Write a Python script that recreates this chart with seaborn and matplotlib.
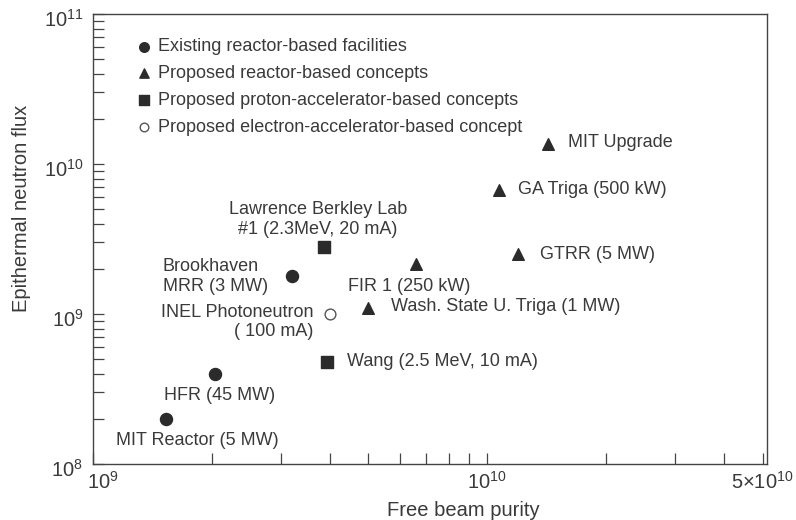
import matplotlib
matplotlib.use("Agg")
import matplotlib.pyplot as plt
import matplotlib.transforms as mtransforms
import seaborn as sns
import pandas as pd
from matplotlib.ticker import FixedLocator, NullFormatter, LogLocator

# ---------------- data ----------------
names = ["MIT Reactor (5 MW)", "HFR (45 MW)", "Brookhaven\nMRR (3 MW)",
         "INEL Photoneutron\n( 100 mA)", "Lawrence Berkley Lab\n#1 (2.3MeV, 20 mA)",
         "Wang (2.5 MeV, 10 mA)", "Wash. State U. Triga (1 MW)", "FIR 1 (250 kW)",
         "GTRR (5 MW)", "GA Triga (500 kW)", "MIT Upgrade"]
purity = [1.53e9, 2.04e9, 3.2e9, 4.0e9, 3.85e9, 3.92e9, 5.0e9, 6.6e9, 1.2e10, 1.07e10, 1.43e10]
flux = [2.0e8, 4.0e8, 1.8e9, 1.0e9, 2.8e9, 4.8e8, 1.1e9, 2.15e9, 2.5e9, 6.7e9, 1.35e10]
category = ["existing", "existing", "existing", "electron", "proton",
            "proton", "reactor", "reactor", "reactor", "reactor", "reactor"]
legend_labels = {
    "existing": "Existing reactor-based facilities",
    "reactor": "Proposed reactor-based concepts",
    "proton": "Proposed proton-accelerator-based concepts",
    "electron": "Proposed electron-accelerator-based concept",
}
x_ticks = [1e9, 1e10, 5e10]
x_ticklabels = [r"$10^{9}$", r"$10^{10}$", r"$5{\times}10^{10}$"]
y_ticks = [1e8, 1e9, 1e10, 1e11]
y_ticklabels = [r"$10^{8}$", r"$10^{9}$", r"$10^{10}$", r"$10^{11}$"]
x_label = "Free beam purity"
y_label = "Epithermal neutron flux"

df = pd.DataFrame({"name": names, "purity": purity, "flux": flux, "cat": category})

# ---------------- style ----------------
sns.set_theme(style="ticks")
plt.rcParams["font.family"] = ["Liberation Sans", "DejaVu Sans"]
plt.rcParams["mathtext.fontset"] = "custom"
plt.rcParams["mathtext.rm"] = "Liberation Sans"
plt.rcParams["mathtext.it"] = "Liberation Sans:italic"
plt.rcParams["mathtext.bf"] = "Liberation Sans:bold"
plt.rcParams["mathtext.sf"] = "Liberation Sans"

ink = "#2b2b2b"
txt = "#3a3a3a"
FS = 13

fig = plt.figure(figsize=(7.96, 5.20), dpi=100)
ax = fig.add_axes([93 / 796, 1 - 464 / 520, (767 - 93) / 796, (464 - 14) / 520])

marker_style = {
    "existing": dict(marker="o", s=75, color=ink, edgecolor=ink),
    "reactor": dict(marker="^", s=70, color=ink, edgecolor=ink),
    "proton": dict(marker="s", s=70, color=ink, edgecolor=ink),
    "electron": dict(marker="o", s=60, color="white", edgecolor="#555555"),
}
for cat in ["existing", "reactor", "proton", "electron"]:
    sub = df[df["cat"] == cat]
    st = marker_style[cat]
    sns.scatterplot(data=sub, x="purity", y="flux", ax=ax, marker=st["marker"], s=st["s"],
                    color=st["color"], edgecolor=st["edgecolor"], linewidth=1.0,
                    label=legend_labels[cat], zorder=3)

ax.set_xscale("log")
ax.set_yscale("log")
ax.set_xlim(1e9, 5.13e10)
ax.set_ylim(1e8, 1e11)

# label offsets (pixels): dx, dy, ha, multialign
offsets = {
    "MIT Reactor (5 MW)": (32, -22, "center", "center"),
    "HFR (45 MW)": (5, -22, "center", "center"),
    "Brookhaven\nMRR (3 MW)": (-24, -1, "right", "left"),
    "INEL Photoneutron\n( 100 mA)": (-17, -8, "right", "right"),
    "Lawrence Berkley Lab\n#1 (2.3MeV, 20 mA)": (-6, 27, "center", "center"),
    "Wang (2.5 MeV, 10 mA)": (20, 0, "left", "left"),
    "Wash. State U. Triga (1 MW)": (23, 1, "left", "left"),
    "FIR 1 (250 kW)": (-7, -22, "center", "center"),
    "GTRR (5 MW)": (22, 0, "left", "left"),
    "GA Triga (500 kW)": (19, 1, "left", "left"),
    "MIT Upgrade": (20, 2, "left", "left"),
}
for _, r in df.iterrows():
    dx, dy, ha, ma = offsets[r["name"]]
    ax.annotate(r["name"], (r["purity"], r["flux"]), xytext=(dx, dy),
                textcoords="offset pixels", ha=ha, va="center", multialignment=ma,
                fontsize=FS, color=txt, linespacing=1.22)

# ticks
ax.xaxis.set_major_locator(FixedLocator(x_ticks))
ax.set_xticklabels(x_ticklabels)
ax.xaxis.set_minor_locator(FixedLocator([2e9, 3e9, 4e9, 5e9, 6e9, 7e9, 8e9, 9e9, 2e10, 3e10, 4e10]))
ax.xaxis.set_minor_formatter(NullFormatter())
ax.yaxis.set_major_locator(FixedLocator(y_ticks))
ax.set_yticklabels(y_ticklabels)
ax.yaxis.set_minor_locator(LogLocator(base=10, subs=range(2, 10), numticks=20))
ax.yaxis.set_minor_formatter(NullFormatter())

ax.tick_params(which="both", direction="in", length=8, width=0.9, color="#444444",
               labelsize=14.5, labelcolor=txt)
ax.tick_params(axis="x", which="major", pad=5)
ax.tick_params(axis="y", which="major", pad=7)
yshift = mtransforms.ScaledTranslation(0, -4 / 100, fig.dpi_scale_trans)
for lab in ax.get_yticklabels():
    lab.set_transform(lab.get_transform() + yshift)
xshift = mtransforms.ScaledTranslation(10 / 100, 0, fig.dpi_scale_trans)
first_x = ax.get_xticklabels()[0]
first_x.set_transform(first_x.get_transform() + xshift)
for sp in ax.spines.values():
    sp.set_color("#444444")
    sp.set_linewidth(1.0)

ax.set_xlabel(x_label, fontsize=14.5, color=txt)
ax.set_ylabel(y_label, fontsize=14.5, color=txt)
ax.xaxis.set_label_coords((463 - 93) / 674, (464 - 510) / 450)
ax.xaxis.label.set_va("center")
ax.yaxis.set_label_coords((22 - 93) / 674, (464 - 208) / 450)
ax.yaxis.label.set_va("center")

leg = ax.legend(loc="upper left", bbox_to_anchor=(0.0655, 0.946), frameon=False,
                fontsize=FS, handlelength=0.8, handletextpad=0.35, labelspacing=0.55,
                borderpad=0, borderaxespad=0, markerscale=0.8)
for t in leg.get_texts():
    t.set_color(txt)

fig.savefig("out.png", dpi=100, facecolor="white")
